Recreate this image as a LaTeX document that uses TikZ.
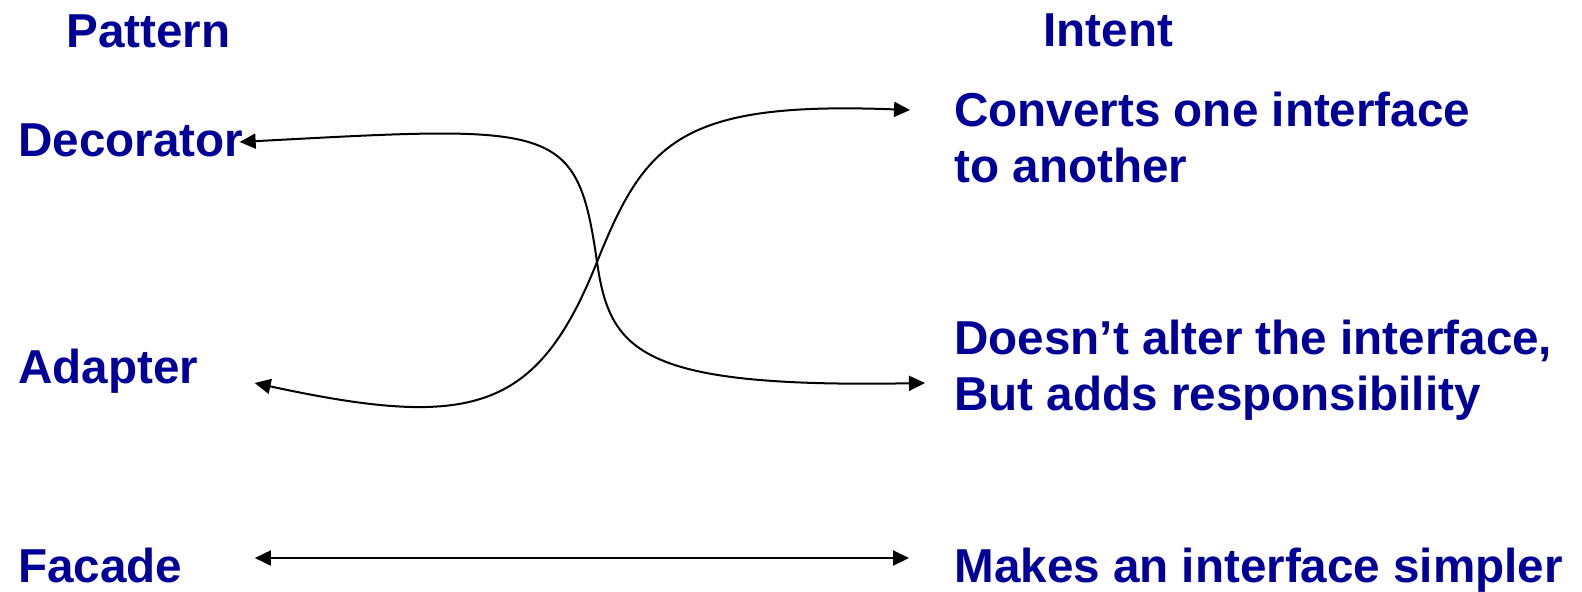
\documentclass[tikz,border=0pt]{standalone}
\usepackage{fontspec}
\setmainfont{Liberation Sans}
\usetikzlibrary{arrows.meta}
\definecolor{intentblue}{RGB}{0,0,153}

\begin{document}
\begin{tikzpicture}[
            x=0.5pt, y=-0.5pt,
            every node/.style={inner sep=0pt, anchor=base west, align=left,
                text=intentblue, font=\fontsize{23.8}{28}\selectfont\bfseries},
            >={Triangle[length=8pt,width=7.5pt]},
            link/.style={<->, line width=1pt}
            ]
            \useasboundingbox (0,0) rectangle (1582,591);
            \node (pattern) at (66,47) {Pattern};
            \node (intent) at (1043,46) {Intent};
            \node (decorator) at (18,156) {Decorator};
            \node (adapter) at (18,383) {Adapter};
            \node (facade) at (18,582) {Facade};
            \node (converts) at (954,182) {Converts one interface\\to another};
            \node (doesnt) at (954,410) {Doesn’t alter the interface,\\But adds responsibility};
            \node (makes) at (954,582) {Makes an interface simpler};
            \coordinate (cross) at (597,262);
            \draw[link] ([shift={(-4,-14)}]decorator.base east)
                .. controls (557,125) and (577,122) .. (cross)
                .. controls (610,352) and (640,388) .. ([shift={(-29,-27)}]doesnt.base west);
            \draw[link] ([shift={(56,0)}]adapter.base east)
                .. controls (472,430) and (537,412) .. (cross)
                .. controls (645,142) and (680,101) .. ([shift={(-44,-72)}]converts.base west);
            \draw[link] ([shift={(72,-24)}]facade.base east) -- ([shift={(-45,-24)}]makes.base west);
        \end{tikzpicture}
\end{document}
